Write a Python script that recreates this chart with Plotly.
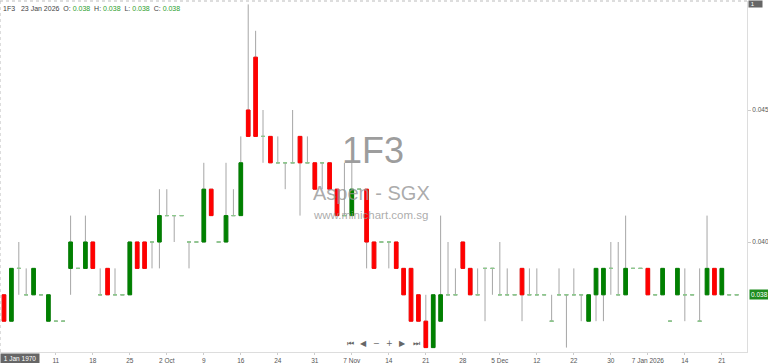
import pandas as pd
import plotly.graph_objects as go

# ---- data ----
holidays = ["2025-10-20", "2025-12-19", "2025-12-25", "2026-01-01"]
dates = [d.strftime("%Y-%m-%d") for d in pd.bdate_range("2025-09-02", "2026-01-23")
         if d.strftime("%Y-%m-%d") not in holidays]

opens = [.038,.037,.039,.038,.038,.038,.037,.037,.037,.039,
         .039,.039,.040,.038,.039,.038,.038,.038,.040,.040,
         .040,.040,.041,.041,.041,.040,.040,.040,.042,.040,
         .040,.041,.041,.045,.047,.044,.044,.043,.043,.043,
         .044,.043,.043,.043,.043,.042,.041,.041,.042,.042,
         .040,.040,.040,.040,.039,.039,.038,.037,.036,.037,
         .038,.038,.040,.039,.038,.039,.039,.038,.038,.038,
         .039,.038,.038,.038,.037,.038,.038,.038,.038,.037,
         .038,.038,.039,.038,.038,.039,.039,.039,.038,.038,
         .037,.038,.038,.038,.037,.038,.039,.038,.038,.038]
highs = [.038,.039,.040,.039,.039,.038,.038,.037,.037,.041,
         .039,.041,.040,.039,.039,.039,.038,.040,.040,.040,
         .040,.042,.042,.041,.041,.040,.040,.043,.042,.040,
         .043,.042,.044,.049,.048,.045,.044,.044,.043,.045,
         .044,.044,.043,.043,.043,.042,.043,.043,.042,.042,
         .040,.040,.040,.040,.039,.039,.038,.038,.038,.041,
         .040,.039,.040,.039,.039,.039,.039,.040,.039,.038,
         .039,.039,.039,.038,.038,.039,.038,.039,.038,.038,
         .039,.039,.040,.040,.041,.039,.039,.039,.038,.039,
         .037,.039,.039,.038,.039,.041,.039,.039,.038,.038]
lows = [.037,.037,.038,.038,.038,.038,.037,.037,.037,.038,
        .039,.039,.039,.038,.038,.038,.038,.038,.039,.039,
        .039,.039,.041,.040,.041,.039,.040,.040,.041,.040,
        .040,.041,.041,.044,.044,.043,.043,.043,.042,.043,
        .041,.043,.042,.042,.042,.041,.041,.041,.042,.039,
        .039,.040,.039,.039,.038,.037,.037,.036,.036,.037,
        .038,.038,.039,.038,.038,.037,.038,.038,.038,.038,
        .037,.038,.038,.038,.037,.038,.036,.038,.037,.037,
        .037,.037,.038,.038,.038,.039,.039,.038,.038,.038,
        .037,.038,.037,.038,.037,.038,.038,.038,.038,.038]
closes = [.037,.039,.039,.038,.039,.038,.038,.037,.037,.040,
          .039,.040,.039,.038,.038,.038,.038,.040,.039,.039,
          .040,.041,.041,.041,.041,.040,.040,.042,.041,.040,
          .041,.041,.043,.044,.044,.044,.043,.043,.043,.043,
          .043,.043,.042,.043,.042,.041,.041,.042,.042,.040,
          .039,.040,.040,.039,.038,.037,.037,.036,.038,.038,
          .038,.038,.039,.038,.038,.039,.039,.038,.038,.038,
          .038,.038,.038,.038,.037,.038,.038,.038,.038,.038,
          .039,.039,.039,.038,.039,.039,.039,.038,.038,.039,
          .037,.039,.038,.038,.037,.039,.038,.039,.038,.038]

tick_dates = ["2025-09-11","2025-09-18","2025-09-25","2025-10-02","2025-10-09",
              "2025-10-16","2025-10-24","2025-10-31","2025-11-07","2025-11-14",
              "2025-11-21","2025-11-28","2025-12-05","2025-12-12","2025-12-22",
              "2025-12-30","2026-01-07","2026-01-14","2026-01-21"]
tick_text = ["11","18","25","2 Oct","9","16","24","31","7 Nov","14","21","28",
             "5 Dec","12","22","30","7 Jan 2026","14","21"]
y_ticks = [0.040, 0.045]
last_price = closes[-1]

# ---- styles ----
GREEN = "#008000"
RED = "#ff0000"
WICK = "#a6a6a6"
DOJI = "#8cc98c"
FONT = "Liberation Sans, Arial, sans-serif"

n = len(dates)
body = [i for i in range(n) if opens[i] != closes[i]]
doji = [i for i in range(n) if opens[i] == closes[i]]

fig = go.Figure()
# wicks
fig.add_trace(go.Candlestick(
    x=dates, open=opens, high=highs, low=lows, close=closes,
    increasing=dict(line=dict(color=WICK, width=1), fillcolor="rgba(0,0,0,0)"),
    decreasing=dict(line=dict(color=WICK, width=1), fillcolor="rgba(0,0,0,0)"),
    whiskerwidth=0, hoverinfo="skip", showlegend=False))
# bodies
fig.add_trace(go.Candlestick(
    x=[dates[i] for i in body],
    open=[opens[i] for i in body], close=[closes[i] for i in body],
    high=[max(opens[i], closes[i]) for i in body],
    low=[min(opens[i], closes[i]) for i in body],
    increasing=dict(line=dict(color=GREEN, width=1), fillcolor=GREEN),
    decreasing=dict(line=dict(color=RED, width=1), fillcolor=RED),
    whiskerwidth=0, hoverinfo="skip", showlegend=False))
# doji dashes
fig.add_trace(go.Candlestick(
    x=[dates[i] for i in doji],
    open=[opens[i] for i in doji], close=[closes[i] for i in doji],
    high=[opens[i] for i in doji], low=[opens[i] for i in doji],
    increasing=dict(line=dict(color=DOJI, width=1), fillcolor=DOJI),
    decreasing=dict(line=dict(color=DOJI, width=1), fillcolor=DOJI),
    whiskerwidth=0, hoverinfo="skip", showlegend=False))

annotations = []
# watermark
annotations.append(dict(xref="paper", yref="paper", x=0.4995, y=0.575, text="1F3",
                        showarrow=False, font=dict(family=FONT, size=36, color="rgba(140,140,140,0.85)")))
annotations.append(dict(xref="paper", yref="paper", x=0.4975, y=0.452, text="Aspen - SGX",
                        showarrow=False, font=dict(family=FONT, size=20, color="rgba(150,150,150,0.8)")))
annotations.append(dict(xref="paper", yref="paper", x=0.496, y=0.389, text="www.minichart.com.sg",
                        showarrow=False, font=dict(family=FONT, size=11.5, color="rgba(150,150,150,0.8)")))
# header
v = lambda s: "<span style='color:#2ca02c'>%s</span>" % s
hdr = ("1F3&nbsp;&nbsp;&nbsp;23 Jan 2026&nbsp;&nbsp;O: " + v("%.3f" % opens[-1]) +
       "&nbsp;&nbsp;H: " + v("%.3f" % highs[-1]) + "&nbsp;&nbsp;L: " + v("%.3f" % lows[-1]) +
       "&nbsp;&nbsp;C: " + v("%.3f" % closes[-1]))
annotations.append(dict(xref="paper", yref="paper", x=0.002, y=0.978, xanchor="left", yanchor="middle",
                        text=hdr, showarrow=False, font=dict(family=FONT, size=7, color="#444")))
# last price tag
annotations.append(dict(xref="paper", yref="y", x=1.0, y=last_price, xanchor="left", yanchor="middle",
                        xshift=2, text="%.3f" % last_price, showarrow=False, bgcolor="#1e8c1e",
                        borderpad=1, font=dict(family=FONT, size=6.5, color="white")))
# top-right box
annotations.append(dict(xref="paper", yref="paper", x=1.0, y=1.0, xanchor="left", yanchor="top",
                        xshift=1, yshift=1, text="&nbsp;1&nbsp;&nbsp;&nbsp;&nbsp;&nbsp;", showarrow=False,
                        bgcolor="#666", borderpad=0, font=dict(family=FONT, size=6, color="white")))
# crosshair date label
annotations.append(dict(xref="paper", yref="paper", x=0.0, y=0.0, xanchor="left", yanchor="top",
                        yshift=-1, text="&nbsp;1 Jan 1970&nbsp;", showarrow=False, bgcolor="#666",
                        borderpad=1, font=dict(family=FONT, size=6.5, color="white")))
# navigation glyphs
for gx, g in [(350, "⏮"), (363, "◀"), (376, "−"), (389, "+"), (402, "▶"), (416, "⏭")]:
    annotations.append(dict(xref="paper", yref="paper", x=gx / 747.0, y=(352 - 343) / 351.0,
                            xanchor="center", yanchor="middle", text=g, showarrow=False,
                            font=dict(family="DejaVu Sans", size=8, color="#666")))

fig.update_layout(
    width=768, height=363,
    margin=dict(l=0, r=21, t=1, b=11),
    paper_bgcolor="white", plot_bgcolor="white",
    showlegend=False,
    annotations=annotations,
    shapes=[dict(type="line", xref="paper", yref="paper", x0=0, x1=1, y0=1, y1=1,
                 line=dict(color="#bbb", width=1, dash="dot")),
            dict(type="line", xref="paper", yref="paper", x0=0, x1=0, y0=0, y1=1,
                 line=dict(color="#bbb", width=1, dash="dot"))],
    xaxis=dict(type="category", categoryorder="array", categoryarray=dates,
               range=[-0.54, 100.4], rangeslider=dict(visible=False),
               tickmode="array", tickvals=tick_dates, ticktext=tick_text,
               tickfont=dict(family=FONT, size=6.5, color="#555"),
               showgrid=False, showline=True, linecolor="#ddd", linewidth=1,
               ticks="outside", ticklen=2, tickcolor="#ccc", zeroline=False, fixedrange=True),
    yaxis=dict(side="right", range=[0.035833, 0.049129],
               tickmode="array", tickvals=y_ticks, ticktext=["%.3f" % t for t in y_ticks],
               tickfont=dict(family=FONT, size=6.5, color="#555"),
               showgrid=False, showline=True, linecolor="#ddd", linewidth=1,
               ticks="outside", ticklen=3, tickcolor="#ccc", zeroline=False, fixedrange=True),
)

fig.write_html("out.html")
